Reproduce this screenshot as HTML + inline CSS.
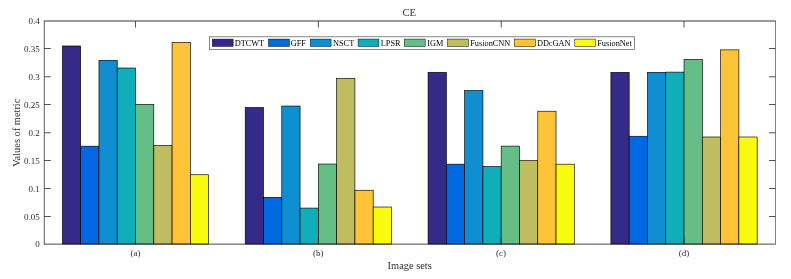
<!DOCTYPE html>
<html><head><meta charset="utf-8"><title>CE</title>
<style>html,body{margin:0;padding:0;background:#fff}body{width:791px;height:279px;overflow:hidden}</style>
</head><body>
<svg width="791" height="279" viewBox="0 0 791 279" style="display:block;font-family:'Liberation Serif','Times New Roman',serif">
<rect width="791" height="279" fill="#fff"/>
<rect x="62.38" y="45.98" width="18.28" height="198.07" fill="#352A87" stroke="#000" stroke-width="0.65"/>
<rect x="80.67" y="146.19" width="18.28" height="97.86" fill="#0268E1" stroke="#000" stroke-width="0.65"/>
<rect x="98.95" y="60.37" width="18.28" height="183.68" fill="#108ED2" stroke="#000" stroke-width="0.65"/>
<rect x="117.24" y="68.01" width="18.28" height="176.04" fill="#0FAEB9" stroke="#000" stroke-width="0.65"/>
<rect x="135.52" y="104.36" width="18.28" height="139.69" fill="#65BE86" stroke="#000" stroke-width="0.65"/>
<rect x="153.80" y="145.35" width="18.28" height="98.70" fill="#C0BC60" stroke="#000" stroke-width="0.65"/>
<rect x="172.09" y="42.36" width="18.28" height="201.69" fill="#FFC337" stroke="#000" stroke-width="0.65"/>
<rect x="190.37" y="174.74" width="18.28" height="69.31" fill="#F9FB0E" stroke="#000" stroke-width="0.65"/>
<rect x="245.22" y="107.49" width="18.28" height="136.56" fill="#352A87" stroke="#000" stroke-width="0.65"/>
<rect x="263.51" y="197.38" width="18.28" height="46.67" fill="#0268E1" stroke="#000" stroke-width="0.65"/>
<rect x="281.79" y="106.04" width="18.28" height="138.01" fill="#108ED2" stroke="#000" stroke-width="0.65"/>
<rect x="300.07" y="208.08" width="18.28" height="35.97" fill="#0FAEB9" stroke="#000" stroke-width="0.65"/>
<rect x="318.36" y="164.03" width="18.28" height="80.02" fill="#65BE86" stroke="#000" stroke-width="0.65"/>
<rect x="336.64" y="78.38" width="18.28" height="165.67" fill="#C0BC60" stroke="#000" stroke-width="0.65"/>
<rect x="354.92" y="190.24" width="18.28" height="53.81" fill="#FFC337" stroke="#000" stroke-width="0.65"/>
<rect x="373.21" y="207.02" width="18.28" height="37.03" fill="#F9FB0E" stroke="#000" stroke-width="0.65"/>
<rect x="428.06" y="72.30" width="18.28" height="171.75" fill="#352A87" stroke="#000" stroke-width="0.65"/>
<rect x="446.34" y="164.20" width="18.28" height="79.85" fill="#0268E1" stroke="#000" stroke-width="0.65"/>
<rect x="464.63" y="90.59" width="18.28" height="153.46" fill="#108ED2" stroke="#000" stroke-width="0.65"/>
<rect x="482.91" y="166.60" width="18.28" height="77.45" fill="#0FAEB9" stroke="#000" stroke-width="0.65"/>
<rect x="501.19" y="146.13" width="18.28" height="97.92" fill="#65BE86" stroke="#000" stroke-width="0.65"/>
<rect x="519.48" y="160.57" width="18.28" height="83.48" fill="#C0BC60" stroke="#000" stroke-width="0.65"/>
<rect x="537.76" y="111.22" width="18.28" height="132.83" fill="#FFC337" stroke="#000" stroke-width="0.65"/>
<rect x="556.05" y="164.20" width="18.28" height="79.85" fill="#F9FB0E" stroke="#000" stroke-width="0.65"/>
<rect x="610.90" y="72.36" width="18.28" height="171.69" fill="#352A87" stroke="#000" stroke-width="0.65"/>
<rect x="629.18" y="136.26" width="18.28" height="107.79" fill="#0268E1" stroke="#000" stroke-width="0.65"/>
<rect x="647.46" y="72.36" width="18.28" height="171.69" fill="#108ED2" stroke="#000" stroke-width="0.65"/>
<rect x="665.75" y="72.13" width="18.28" height="171.92" fill="#0FAEB9" stroke="#000" stroke-width="0.65"/>
<rect x="684.03" y="59.53" width="18.28" height="184.52" fill="#65BE86" stroke="#000" stroke-width="0.65"/>
<rect x="702.32" y="136.99" width="18.28" height="107.06" fill="#C0BC60" stroke="#000" stroke-width="0.65"/>
<rect x="720.60" y="49.88" width="18.28" height="194.17" fill="#FFC337" stroke="#000" stroke-width="0.65"/>
<rect x="738.88" y="136.99" width="18.28" height="107.06" fill="#F9FB0E" stroke="#000" stroke-width="0.65"/>
<g stroke="#262626" stroke-width="0.8" fill="none">
<path d="M43.9 21.0H775.85" stroke-width="0.94"/>
<path d="M43.9 244.13000000000002H775.8" stroke-width="0.85"/>
<path d="M44.3 21.0V244.05" stroke-width="0.75"/>
<path d="M775.5 21.0V244.05" stroke-width="0.58"/>
<path d="M135.52 244.05v-6.5M135.52 21.0v6.5"/>
<path d="M318.36 244.05v-6.5M318.36 21.0v6.5"/>
<path d="M501.19 244.05v-6.5M501.19 21.0v6.5"/>
<path d="M684.03 244.05v-6.5M684.03 21.0v6.5"/>
<path d="M44.3 216.50h6.5M775.5 216.50h-6.5"/>
<path d="M44.3 188.50h6.5M775.5 188.50h-6.5"/>
<path d="M44.3 160.50h6.5M775.5 160.50h-6.5"/>
<path d="M44.3 132.80h6.5M775.5 132.80h-6.5"/>
<path d="M44.3 104.50h6.5M775.5 104.50h-6.5"/>
<path d="M44.3 76.80h6.5M775.5 76.80h-6.5"/>
<path d="M44.3 48.50h6.5M775.5 48.50h-6.5"/>
</g>
<g fill="#303030" font-size="9">
<text x="39.80" y="247.45" text-anchor="end">0</text>
<text x="39.80" y="219.90" text-anchor="end">0.05</text>
<text x="39.80" y="191.90" text-anchor="end">0.1</text>
<text x="39.80" y="163.90" text-anchor="end">0.15</text>
<text x="39.80" y="136.20" text-anchor="end">0.2</text>
<text x="39.80" y="107.90" text-anchor="end">0.25</text>
<text x="39.80" y="80.20" text-anchor="end">0.3</text>
<text x="39.80" y="51.90" text-anchor="end">0.35</text>
<text x="39.80" y="24.40" text-anchor="end">0.4</text>
<text x="135.42" y="256.1" text-anchor="middle">(a)</text>
<text x="318.26" y="256.1" text-anchor="middle">(b)</text>
<text x="501.09" y="256.1" text-anchor="middle">(c)</text>
<text x="683.93" y="256.1" text-anchor="middle">(d)</text>
</g>
<g fill="#303030" font-size="10.2">
<text x="409.7" y="269.3" text-anchor="middle" font-size="10.4">Image sets</text>
<text x="409.2" y="16.3" text-anchor="middle" font-size="10.6">CE</text>
<text transform="translate(19.9 132.7) rotate(-90)" text-anchor="middle" font-size="10.4">Values of metric</text>
</g>
<rect x="209.55" y="36.85" width="425.10" height="12.50" fill="#fff" stroke="#262626" stroke-width="0.55"/>
<g font-size="8.3" fill="#000">
<rect x="212.30" y="39.1" width="20.8" height="7.3" fill="#352A87" stroke="#000" stroke-width="0.5"/>
<text x="234.70" y="45.6">DTCWT</text>
<rect x="268.60" y="39.1" width="20.8" height="7.3" fill="#0268E1" stroke="#000" stroke-width="0.5"/>
<text x="290.70" y="45.6">GFF</text>
<rect x="310.30" y="39.1" width="20.8" height="7.3" fill="#108ED2" stroke="#000" stroke-width="0.5"/>
<text x="333.00" y="45.6">NSCT</text>
<rect x="358.10" y="39.1" width="20.8" height="7.3" fill="#0FAEB9" stroke="#000" stroke-width="0.5"/>
<text x="380.80" y="45.6">LPSR</text>
<rect x="404.40" y="39.1" width="20.8" height="7.3" fill="#65BE86" stroke="#000" stroke-width="0.5"/>
<text x="427.30" y="45.6">IGM</text>
<rect x="447.50" y="39.1" width="20.8" height="7.3" fill="#C0BC60" stroke="#000" stroke-width="0.5"/>
<text x="470.20" y="45.6">FusionCNN</text>
<rect x="514.60" y="39.1" width="20.8" height="7.3" fill="#FFC337" stroke="#000" stroke-width="0.5"/>
<text x="536.90" y="45.6">DDcGAN</text>
<rect x="574.80" y="39.1" width="20.8" height="7.3" fill="#F9FB0E" stroke="#000" stroke-width="0.5"/>
<text x="597.20" y="45.6">FusionNet</text>
</g>
</svg>
</body></html>
